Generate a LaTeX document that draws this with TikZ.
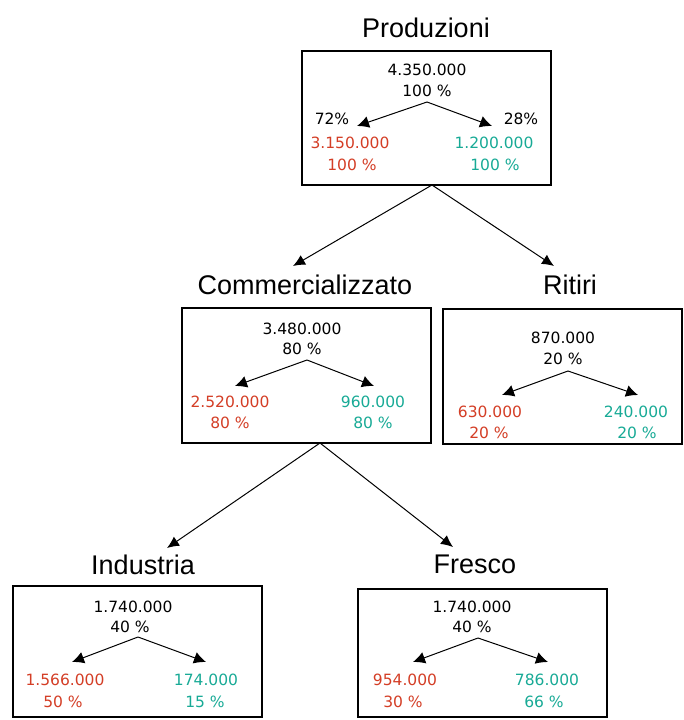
\documentclass[tikz,border=0pt]{standalone}
\usepackage{fontspec}
\setmainfont{Liberation Sans}
\newfontfamily\numfont{DejaVu Sans}
\usetikzlibrary{arrows.meta}
\definecolor{redv}{RGB}{212,62,38}
\definecolor{tealv}{RGB}{24,170,150}
\tikzset{
  box/.style={draw=black, line width=1.6pt, minimum width=249pt, inner sep=0pt},
  ttl/.style={inner sep=0pt, font=\fontsize{27}{30}\selectfont},
  num/.style={inner sep=0pt, font=\numfont\fontsize{15.5}{17}\selectfont},
  rnum/.style={num, text=redv},
  tnum/.style={num, text=tealv},
  inarr/.style={line width=1pt, -{Latex[length=12pt,width=12pt]}},
  bigarr/.style={line width=1pt, -{Latex[length=12pt,width=11pt]}}
}
\begin{document}
\begin{tikzpicture}[x=1pt,y=-1pt]
\useasboundingbox[fill=white] (0,0) rectangle (683,720);

% ---------- Produzioni ----------
\node[ttl] (tprod) at (426,28) {Produzioni};
\node[box, minimum height=134pt] (bprod) at (426.5,118) {};
\node[num] (ptot) at (427,70) {4.350.000};
\node[num] (ppct) at (427,91) {100 \%};
\coordinate (papex) at (427,102);
\coordinate (pltip) at (357,126);
\coordinate (prtip) at (492,126);
\node[num] (p72) at (332,119) {72\%};
\node[num] (p28) at (521,119) {28\%};
\node[rnum] (plnum) at (350,143) {3.150.000};
\node[rnum] (plpct) at (352,165) {100 \%};
\node[tnum] (prnum) at (494,143) {1.200.000};
\node[tnum] (prpct) at (495,165) {100 \%};
\draw[inarr] (papex) -- (pltip);
\draw[inarr] (papex) -- (prtip);

% ---------- Commercializzato ----------
\node[ttl] (tcomm) at (305,285) {Commercializzato};
\node[box, minimum height=135pt] (bcomm) at (306.5,375.5) {};
\node[num] (ctot) at (302,329) {3.480.000};
\node[num] (cpct) at (302,349) {80 \%};
\coordinate (capex) at (307,360);
\coordinate (cltip) at (235,386);
\coordinate (crtip) at (374,386);
\node[rnum] (clnum) at (230,402) {2.520.000};
\node[rnum] (clpct) at (230,423) {80 \%};
\node[tnum] (crnum) at (373,402) {960.000};
\node[tnum] (crpct) at (373,423) {80 \%};
\draw[inarr] (capex) -- (cltip);
\draw[inarr] (capex) -- (crtip);

% ---------- Ritiri ----------
\node[ttl] (trit) at (570,285) {Ritiri};
\node[box, minimum width=239pt, minimum height=135pt] (brit) at (562.5,376.5) {};
\node[num] (rtot) at (563,338) {870.000};
\node[num] (rpct) at (563,359) {20 \%};
\coordinate (rapex) at (568,371);
\coordinate (rltip) at (502,395);
\coordinate (rrtip) at (638,395);
\node[rnum] (rlnum) at (490,412) {630.000};
\node[rnum] (rlpct) at (489,433) {20 \%};
\node[tnum] (rrnum) at (636,412) {240.000};
\node[tnum] (rrpct) at (637,433) {20 \%};
\draw[inarr] (rapex) -- (rltip);
\draw[inarr] (rapex) -- (rrtip);

% ---------- Industria ----------
\node[ttl] (tind) at (143,565) {Industria};
\node[box, minimum height=131pt] (bind) at (137.5,651.5) {};
\node[num] (itot) at (133,607) {1.740.000};
\node[num] (ipct) at (130,627) {40 \%};
\coordinate (iapex) at (138,637);
\coordinate (iltip) at (72,662);
\coordinate (irtip) at (206,662);
\node[rnum] (ilnum) at (65,680) {1.566.000};
\node[rnum] (ilpct) at (63,702) {50 \%};
\node[tnum] (irnum) at (206,680) {174.000};
\node[tnum] (irpct) at (205,702) {15 \%};
\draw[inarr] (iapex) -- (iltip);
\draw[inarr] (iapex) -- (irtip);

% ---------- Fresco ----------
\node[ttl] (tfre) at (475,564) {Fresco};
\node[box, minimum height=128pt] (bfre) at (482.5,653) {};
\node[num] (ftot) at (472,607) {1.740.000};
\node[num] (fpct) at (472,627) {40 \%};
\coordinate (fapex) at (478,638);
\coordinate (fltip) at (413,662);
\coordinate (frtip) at (548,662);
\node[rnum] (flnum) at (405,680) {954.000};
\node[rnum] (flpct) at (403,702) {30 \%};
\node[tnum] (frnum) at (547,680) {786.000};
\node[tnum] (frpct) at (544,702) {66 \%};
\draw[inarr] (fapex) -- (fltip);
\draw[inarr] (fapex) -- (frtip);

% ---------- connectors between levels ----------
\coordinate (pbot) at (432,185);
\coordinate (tipc) at (293,266);
\coordinate (tipr) at (554,266);
\draw[bigarr] (pbot) -- (tipc);
\draw[bigarr] (pbot) -- (tipr);
\coordinate (cbot) at (320,443);
\coordinate (tipi) at (167,548);
\coordinate (tipf) at (453,547);
\draw[bigarr] (cbot) -- (tipi);
\draw[bigarr] (cbot) -- (tipf);
\end{tikzpicture}
\end{document}
